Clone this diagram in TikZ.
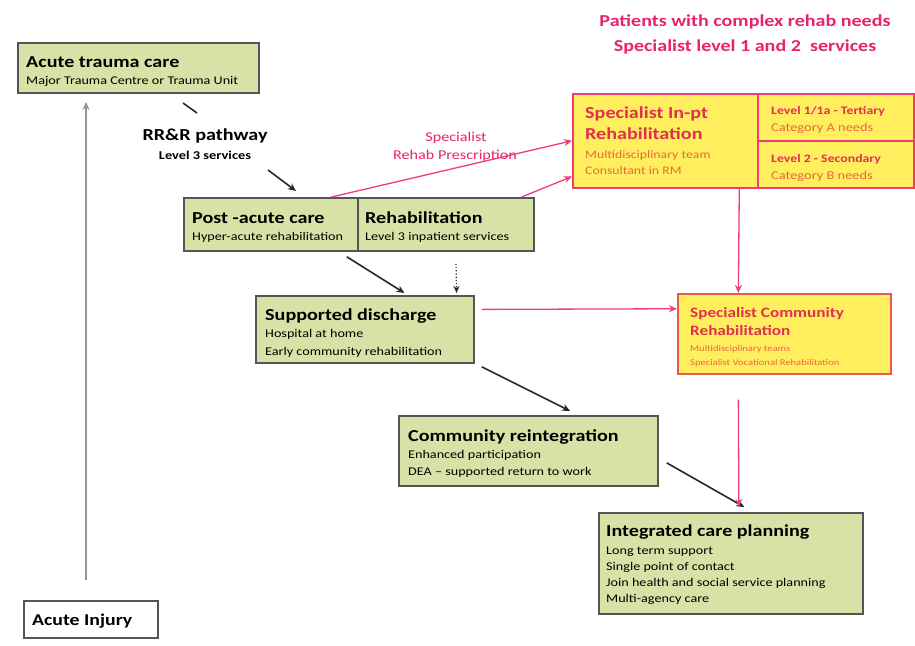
\documentclass[tikz,border=0pt]{standalone}
\usepackage{fontspec}
\setmainfont{Carlito}[FakeStretch=1.2]
\usetikzlibrary{arrows.meta,calc}
\definecolor{boxgreen}{HTML}{D7E3A6}
\definecolor{boxyellow}{HTML}{FFEF5E}
\definecolor{pinkline}{HTML}{EE3D7A}
\definecolor{pinktext}{HTML}{E8226E}
\definecolor{redtext}{HTML}{E0304F}
\definecolor{orangetext}{HTML}{E8683A}
\definecolor{edgegray}{HTML}{555555}
\newcommand{\ttlf}{\fontsize{16.75}{20}\selectfont\bfseries}
\newcommand{\sbtf}{\fontsize{11.8}{14}\selectfont}
\tikzset{
  gbox/.style={draw=edgegray, line width=1.8pt, fill=boxgreen, anchor=north west, inner sep=0pt},
  ybox/.style={draw=pinkline, line width=1.5pt, fill=boxyellow, anchor=north west, inner sep=0pt},
  tl/.style={anchor=base west, inner sep=0pt},
  tlt/.style={tl, font=\ttlf},
  tls/.style={tl, font=\sbtf},
  ctl/.style={anchor=base, inner sep=0pt},
  blk/.style={draw=black!85, line width=1.6pt, -{Stealth[length=8pt,width=7pt]}},
  pnk/.style={draw=pinkline, line width=1.3pt, -{Stealth[length=8pt,width=7pt]}},
}
\begin{document}
\begin{tikzpicture}[x=1pt,y=-1pt]
\useasboundingbox[fill=white] (0,0) rectangle (915,645);

% heading
\node[ctl, text=pinktext, font=\fontsize{16.7}{20}\selectfont\bfseries] (head1) at (745,26) {Patients with complex rehab needs};
\node[ctl, text=pinktext, font=\fontsize{16.7}{20}\selectfont\bfseries] (head2) at (745,51) {Specialist level 1 and 2\ \ services};

% green boxes
\node[gbox, minimum width=241, minimum height=50] (acute) at (17,42) {};
\node[tlt] (acute-t) at ($(acute.north west)+(9,25)$) {Acute trauma care};
\node[tls] (acute-s) at ($(acute.north west)+(9,42)$) {Major Trauma Centre or Trauma Unit};

\node[gbox, minimum width=174, minimum height=53] (post) at (183,197) {};
\node[tlt] (post-t) at ($(post.north west)+(9,26)$) {Post -acute care};
\node[tls] (post-s) at ($(post.north west)+(9,43)$) {Hyper-acute rehabilitation};

\node[gbox, minimum width=176, minimum height=53] (rehab) at (357,197) {};
\node[tlt] (rehab-t) at ($(rehab.north west)+(8,26)$) {Rehabilitation};
\node[tls] (rehab-s) at ($(rehab.north west)+(8,43)$) {Level 3 inpatient services};

\node[gbox, minimum width=218, minimum height=67] (supp) at (255,295) {};
\node[tlt] (supp-t) at ($(supp.north west)+(10,25)$) {Supported discharge};
\node[tls] (supp-s1) at ($(supp.north west)+(10,42)$) {Hospital at home};
\node[tls] (supp-s2) at ($(supp.north west)+(10,60)$) {Early community rehabilitation};

\node[gbox, minimum width=259, minimum height=70] (comm) at (398,415) {};
\node[tlt] (comm-t) at ($(comm.north west)+(10,26)$) {Community reintegration};
\node[tls] (comm-s1) at ($(comm.north west)+(10,43)$) {Enhanced participation};
\node[tls] (comm-s2) at ($(comm.north west)+(10,60)$) {DEA -- supported return to work};

\node[gbox, minimum width=264, minimum height=101] (integ) at (598,512) {};
\node[tlt] (integ-t) at ($(integ.north west)+(8,24)$) {Integrated care planning};
\node[tls] (integ-s1) at ($(integ.north west)+(8,42)$) {Long term support};
\node[tls] (integ-s2) at ($(integ.north west)+(8,58)$) {Single point of contact};
\node[tls] (integ-s3) at ($(integ.north west)+(8,74)$) {Join health and social service planning};
\node[tls] (integ-s4) at ($(integ.north west)+(8,90)$) {Multi-agency care};

\node[gbox, fill=white, minimum width=134, minimum height=37] (injury) at (23,600) {};
\node[tl, font=\fontsize{16.5}{20}\selectfont\bfseries] (injury-t) at ($(injury.north west)+(9,25)$) {Acute Injury};

% yellow boxes
\node[ybox, minimum width=185, minimum height=94] (inpt) at (572,93) {};
\node[tlt, text=redtext] (inpt-t1) at ($(inpt.north west)+(13,25)$) {Specialist In-pt};
\node[tlt, text=redtext] (inpt-t2) at ($(inpt.north west)+(13,46)$) {Rehabilitation};
\node[tl, text=orangetext, font=\fontsize{11.5}{14}\selectfont] (inpt-s1) at ($(inpt.north west)+(13,65)$) {Multidisciplinary team};
\node[tl, text=orangetext, font=\fontsize{11.5}{14}\selectfont] (inpt-s2) at ($(inpt.north west)+(13,81)$) {Consultant in RM};

\node[ybox, minimum width=156, minimum height=47] (lvl1) at (757,93) {};
\node[tl, text=redtext, font=\fontsize{11.5}{14}\selectfont\bfseries] (lvl1-t) at ($(lvl1.north west)+(14,21)$) {Level 1/1a - Tertiary};
\node[tl, text=orangetext, font=\fontsize{12}{14}\selectfont] (lvl1-s) at ($(lvl1.north west)+(14,38)$) {Category A needs};

\node[ybox, minimum width=156, minimum height=47] (lvl2) at (757,140) {};
\node[tl, text=redtext, font=\fontsize{11.5}{14}\selectfont\bfseries] (lvl2-t) at ($(lvl2.north west)+(14,22)$) {Level 2 - Secondary};
\node[tl, text=orangetext, font=\fontsize{12}{14}\selectfont] (lvl2-s) at ($(lvl2.north west)+(14,39)$) {Category B needs};

\node[ybox, draw=orangetext!60!pinkline, minimum width=213, minimum height=80] (spcomm) at (677,293) {};
\node[tl, text=redtext, font=\fontsize{14.3}{18}\selectfont\bfseries] (spcomm-t1) at ($(spcomm.north west)+(13,24)$) {Specialist Community};
\node[tl, text=redtext, font=\fontsize{14.3}{18}\selectfont\bfseries] (spcomm-t2) at ($(spcomm.north west)+(13,42)$) {Rehabilitation};
\node[tl, text=orangetext, font=\fontsize{8.8}{11}\selectfont] (spcomm-s1) at ($(spcomm.north west)+(13,58)$) {Multidisciplinary teams};
\node[tl, text=orangetext, font=\fontsize{8.8}{11}\selectfont] (spcomm-s2) at ($(spcomm.north west)+(13,72)$) {Specialist Vocational Rehabilitation};

% free labels
\node[ctl, font=\fontsize{16.8}{20}\selectfont\bfseries] (rrr1) at (205,140) {RR\&R pathway};
\node[ctl, font=\fontsize{12}{14}\selectfont\bfseries] (rrr2) at (205,159) {Level 3 services};
\node[ctl, text=pinktext, font=\fontsize{13.5}{16}\selectfont] (presc1) at (456,141) {Specialist};
\node[ctl, text=pinktext, font=\fontsize{13.5}{16}\selectfont] (presc2) at (455,159) {Rehab Prescription};

% connector helper coordinates
\coordinate (a1) at (183,103);
\coordinate (a2) at (197,113);
\coordinate (a3) at (268,170);
\coordinate (a4) at (296,191);
\coordinate (injtop) at (86,580);
\coordinate (acbot) at (86,102);

% black connectors
\draw[draw=black!85, line width=1.6pt] (a1) -- (a2);
\draw[blk] (a3) -- (a4);
\draw[blk, draw=gray!85] (injtop) -- (acbot);
\draw[blk] ($(post.south east)+(-12,5)$) -- ($(supp.north west)!0.68!(supp.north east)+(0,-2)$);
\draw[blk, line width=1.2pt, dotted, -{Stealth[length=7pt,width=6pt]}] ($(rehab.south west)!0.557!(rehab.south east)+(0,12)$) -- ($(supp.north west)!0.917!(supp.north east)+(0,-2)$);
\draw[blk] ($(supp.south east)+(7,3)$) -- ($(comm.north west)!0.66!(comm.north east)+(0,-4)$);
\draw[blk] ($(comm.east)+(8,12)$) -- ($(integ.north west)!0.55!(integ.north east)+(0,-5)$);

% pink connectors
\draw[pnk] ($(post.north west)!0.845!(post.north east)$) -- (inpt.west);
\draw[pnk] ($(rehab.north west)!0.926!(rehab.north east)$) -- ($(inpt.south west)+(0,-12)$);
\draw[pnk] ($(inpt.south west)!0.897!(inpt.south east)$) -- ($(spcomm.north west)!0.286!(spcomm.north east)$);
\draw[pnk] ($(supp.east)+(7,-20)$) -- ($(spcomm.west)+(0,-25)$);
\draw[pnk] ($(spcomm.south west)!0.286!(spcomm.south east)+(0,25)$) -- ($(integ.north west)!0.53!(integ.north east)+(0,-5)$);
\end{tikzpicture}
\end{document}
